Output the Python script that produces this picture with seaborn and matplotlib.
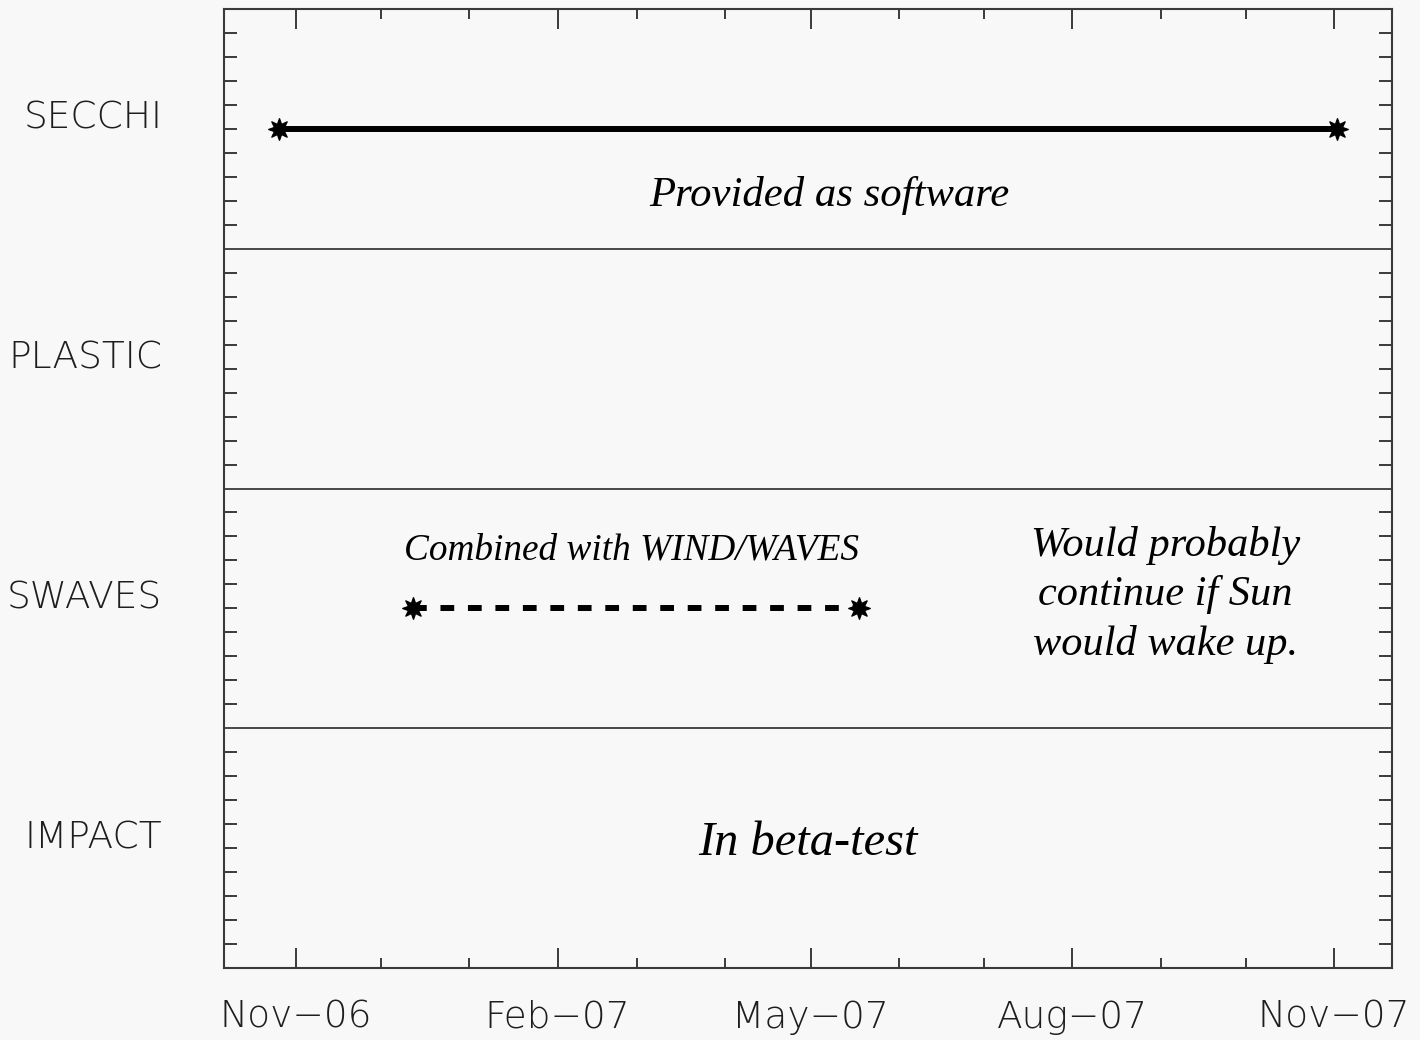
import numpy as np
import pandas as pd
import matplotlib
matplotlib.use("Agg")
import matplotlib.pyplot as plt
import matplotlib.dates as mdates
import seaborn as sns

# ---- data ----
instruments = ["SECCHI", "PLASTIC", "SWAVES", "IMPACT"]
secchi_dates = ["2006-10-26", "2007-11-02"]
swaves_dates = ["2006-12-12", "2007-05-18"]
x_start = "2006-11-01"
x_end = "2007-11-01"
notes = ["Provided as software", "Combined with WIND/WAVES",
         "Would probably\ncontinue if Sun\nwould wake up.", "In beta-test"]

sns.set_theme(style="ticks")
plt.rcParams["font.family"] = ["DejaVu Sans"]

BG = "#f8f8f8"
AX = "#3a3a3a"
fig = plt.figure(figsize=(14.2, 10.4), dpi=100, facecolor=BG)
ax = fig.add_axes([224 / 1420, 72 / 1040, 1168 / 1420, 959 / 1040])
ax.set_facecolor(BG)

ypos = {name: len(instruments) - 0.5 - i for i, name in enumerate(instruments)}

secchi = pd.DataFrame({"date": pd.to_datetime(secchi_dates),
                       "y": [ypos["SECCHI"]] * 2})
swaves = pd.DataFrame({"date": pd.to_datetime(swaves_dates),
                       "y": [ypos["SWAVES"]] * 2})

mk = (8, 1, 0)
sns.lineplot(data=secchi, x="date", y="y", ax=ax, color="black", lw=4.3,
             marker=mk, ms=16, mew=0.8, mec="black", solid_capstyle="butt")
sns.lineplot(data=swaves, x="date", y="y", ax=ax, color="black", lw=4.3,
             marker=mk, ms=16, mew=0.8, mec="black", linestyle=(0, (2.3, 2.3)),
             dash_capstyle="butt")

for b in range(1, len(instruments)):
    ax.axhline(b, color=AX, lw=1.3)

d0 = mdates.date2num(pd.Timestamp(x_start))
d1 = mdates.date2num(pd.Timestamp(x_end))
ax.set_xlim(d0 - 25.3, d1 + 20.4)
ax.set_ylim(0, len(instruments))

ax.xaxis.set_major_locator(mdates.MonthLocator(bymonth=[2, 5, 8, 11]))
ax.xaxis.set_minor_locator(mdates.MonthLocator())
ax.xaxis.set_major_formatter(
    matplotlib.ticker.FuncFormatter(
        lambda v, p: mdates.num2date(v).strftime("%b") + "\u2212" + mdates.num2date(v).strftime("%y")))

ax.set_yticks([ypos[n] for n in instruments])
ax.set_yticklabels(instruments)
minor_y = [k / 10 for k in range(0, 10 * len(instruments) + 1) if k % 10 != 0 and k % 10 != 5]
ax.set_yticks(minor_y, minor=True)

for s in ax.spines.values():
    s.set_visible(True)
    s.set_color(AX)
    s.set_linewidth(1.5)

ax.tick_params(axis="both", which="both", direction="in", top=True, right=True,
               color=AX, width=1.4, labelcolor="#1e1e1e", labelsize=27)
ax.tick_params(axis="x", which="major", length=14.4, pad=23)
ax.tick_params(axis="x", which="minor", length=7.5)
ax.tick_params(axis="y", which="both", length=9.4, pad=44.5)
for lab in ax.get_yticklabels():
    lab.set_va("baseline")
    lab.set_fontweight(200)
for lab in ax.get_xticklabels():
    lab.set_fontweight(200)

ax.set_xlabel("")
ax.set_ylabel("")

serif = dict(family="Liberation Serif", style="italic", color="black",
             transform=ax.transAxes, ha="center", va="center")
ax.text(0.518, 0.806, notes[0], fontsize=30.8, **serif)
ax.text(0.349, 0.436, notes[1], fontsize=26.8, **serif)
ax.text(0.806, 0.389, notes[2], fontsize=30.5, linespacing=1.36, **serif)
ax.text(0.500, 0.130, notes[3], fontsize=34.8, **serif)

fig.savefig("out.png", dpi=100, facecolor=BG)
